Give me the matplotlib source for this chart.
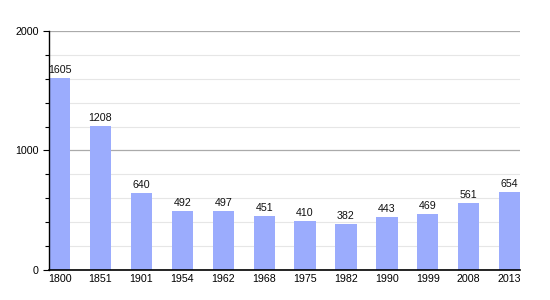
import matplotlib.pyplot as plt
from matplotlib.ticker import MultipleLocator

years = ["1800", "1851", "1901", "1954", "1962", "1968", "1975", "1982", "1990", "1999", "2008", "2013"]
population = [1605, 1208, 640, 492, 497, 451, 410, 382, 443, 469, 561, 654]

plt.rcParams['font.family'] = ['Liberation Sans', 'DejaVu Sans']

fig = plt.figure(figsize=(5.5, 3), dpi=100)
ax = fig.add_axes([0.089, 0.1, 0.857, 0.797])

x = range(len(years))
ax.bar(x, population, width=0.52, color='#9bacfd', zorder=2)

# value labels above bars
for xi, v in zip(x, population):
	ax.text(xi, v + 25, str(v), ha='center', va='bottom', fontsize=7.7, color='#111111', zorder=3)

ax.set_xlim(-0.26, 11.26)
ax.set_ylim(0, 2000)
ax.set_xticks(list(x))
ax.set_xticklabels(years, fontsize=7.7)
ax.yaxis.set_major_locator(MultipleLocator(1000))
ax.yaxis.set_minor_locator(MultipleLocator(200))
ax.tick_params(axis='y', labelsize=7.7, length=4, width=0.8)
ax.tick_params(axis='y', which='minor', length=3, width=0.8)
ax.tick_params(axis='x', length=0, pad=3)

ax.grid(axis='y', which='major', color='#aaaaaa', linewidth=0.9, zorder=0)
ax.grid(axis='y', which='minor', color='#e6e6e6', linewidth=0.8, zorder=0)
ax.set_axisbelow(True)

for side in ['top', 'right']:
	ax.spines[side].set_visible(False)
ax.spines['left'].set_linewidth(1)
ax.spines['bottom'].set_linewidth(1.2)

plt.savefig("out.png", dpi=100)
